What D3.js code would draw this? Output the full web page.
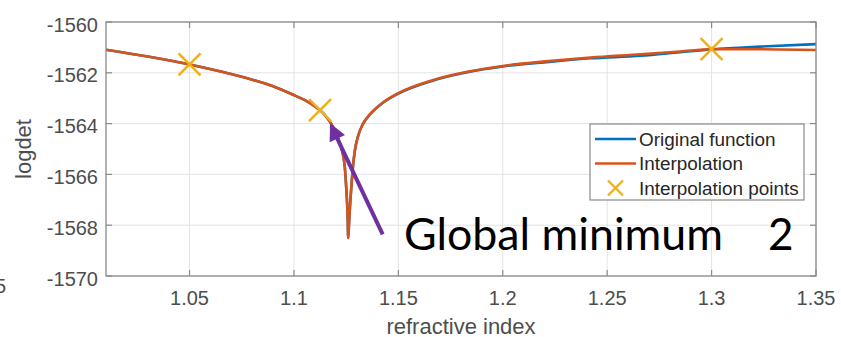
<!DOCTYPE html>
<html>
<head>
<meta charset="utf-8">
<script src="https://cdn.jsdelivr.net/npm/d3@7"></script>
<style>
  html, body { margin: 0; padding: 0; background: #fff; }
  svg { display: block; }
</style>
</head>
<body>
<svg id="chart" width="841" height="337"></svg>
<script>
// ---------- data ----------
const refractiveIndex = [1.010, 1.030, 1.050, 1.065, 1.080, 1.090, 1.100, 1.105, 1.110, 1.1125,
  1.115, 1.118, 1.121, 1.123, 1.1245, 1.1252, 1.1257, 1.1260,
  1.1264, 1.1268, 1.1274, 1.1282, 1.1292, 1.1305, 1.1330, 1.1364, 1.142,
  1.150, 1.166, 1.183, 1.200, 1.222, 1.242, 1.266, 1.285, 1.300, 1.323, 1.350];

const originalFunction = [-1561.09, -1561.36, -1561.67, -1561.95, -1562.27, -1562.53, -1562.88, -1563.07, -1563.32, -1563.47,
  -1563.68, -1564.03, -1564.55, -1565.05, -1565.85, -1566.75, -1567.60, -1568.50,
  -1567.90, -1567.30, -1566.60, -1565.75, -1565.05, -1564.55, -1564.02, -1563.64, -1563.22,
  -1562.82, -1562.32, -1561.98, -1561.75, -1561.57, -1561.43, -1561.33, -1561.19, -1561.08, -1560.97, -1560.87];

const interpolation = [-1561.09, -1561.36, -1561.67, -1561.95, -1562.27, -1562.53, -1562.88, -1563.07, -1563.32, -1563.47,
  -1563.68, -1564.03, -1564.55, -1565.05, -1565.85, -1566.75, -1567.60, -1568.50,
  -1567.90, -1567.30, -1566.60, -1565.75, -1565.05, -1564.55, -1564.02, -1563.64, -1563.21,
  -1562.80, -1562.30, -1561.96, -1561.73, -1561.54, -1561.40, -1561.27, -1561.16, -1561.07, -1561.07, -1561.10];

const pointsX = [1.05, 1.1125, 1.30];
const pointsY = [-1561.67, -1563.47, -1561.07];

const xTicks = [1.05, 1.1, 1.15, 1.2, 1.25, 1.3, 1.35];
const xTickLabels = ["1.05", "1.1", "1.15", "1.2", "1.25", "1.3", "1.35"];
const yTicks = [-1570, -1568, -1566, -1564, -1562, -1560];
const yTickLabels = ["-1570", "-1568", "-1566", "-1564", "-1562", "-1560"];

const legendLabels = ["Original function", "Interpolation", "Interpolation points"];
const xLabel = "refractive index";
const yLabel = "logdet";
const annotationText = "Global minimum";
const annotationNumber = "2";
// arrow annotation in data coordinates: [tail, tip]
const arrowX = [1.1425, 1.1173];
const arrowY = [-1568.36, -1563.99];

// ---------- layout ----------
const svg = d3.select("#chart");
const L = 106, R = 816, T = 22, B = 276;
const x = d3.scaleLinear().domain([1.01, 1.35]).range([L, R]);
const y = d3.scaleLinear().domain([-1570, -1560]).range([B, T]);

const blue = "#0072BD", orange = "#D95319", yellow = "#EDB120";
const tickColor = "#4d4d4d";
const axisColor = "#8a8a8a";
const fontTick = "Liberation Sans, Arial, Helvetica, sans-serif";

// grid
const grid = svg.append("g");
grid.selectAll("line.gx").data(xTicks).join("line")
  .attr("x1", d => x(d)).attr("x2", d => x(d)).attr("y1", T).attr("y2", B)
  .attr("stroke", "#e3e3e3").attr("stroke-width", 1);
grid.selectAll("line.gy").data(yTicks).join("line")
  .attr("x1", L).attr("x2", R).attr("y1", d => y(d)).attr("y2", d => y(d))
  .attr("stroke", "#e3e3e3").attr("stroke-width", 1);

// curves
const lineGen = d3.line().curve(d3.curveMonotoneX);
const origData = refractiveIndex.map((v, i) => [x(v), y(originalFunction[i])]);
const interpData = refractiveIndex.map((v, i) => [x(v), y(interpolation[i])]);

svg.append("clipPath").attr("id", "clip")
  .append("rect").attr("x", L).attr("y", T).attr("width", R - L).attr("height", B - T);

const plot = svg.append("g").attr("clip-path", "url(#clip)");
plot.append("path").attr("d", lineGen(origData))
  .attr("fill", "none").attr("stroke", blue).attr("stroke-width", 2.6);
plot.append("path").attr("d", lineGen(interpData))
  .attr("fill", "none").attr("stroke", orange).attr("stroke-width", 2.6);

// interpolation points (x markers)
function cross(g, cx, cy, s, w) {
  g.append("line").attr("x1", cx - s).attr("y1", cy - s).attr("x2", cx + s).attr("y2", cy + s)
    .attr("stroke", yellow).attr("stroke-width", w);
  g.append("line").attr("x1", cx - s).attr("y1", cy + s).attr("x2", cx + s).attr("y2", cy - s)
    .attr("stroke", yellow).attr("stroke-width", w);
}
const marks = svg.append("g");
pointsX.forEach((px, i) => cross(marks, x(px), y(pointsY[i]), 11, 2.6));

// axes box
svg.append("rect").attr("x", L).attr("y", T).attr("width", R - L).attr("height", B - T)
  .attr("fill", "none").attr("stroke", axisColor).attr("stroke-width", 1.3);

// ticks (inward on all sides)
const tl = 6;
const ticks = svg.append("g").attr("stroke", axisColor).attr("stroke-width", 1.2);
xTicks.forEach(t => {
  ticks.append("line").attr("x1", x(t)).attr("x2", x(t)).attr("y1", B).attr("y2", B - tl);
  ticks.append("line").attr("x1", x(t)).attr("x2", x(t)).attr("y1", T).attr("y2", T + tl);
});
yTicks.forEach(t => {
  ticks.append("line").attr("x1", L).attr("x2", L + tl).attr("y1", y(t)).attr("y2", y(t));
  ticks.append("line").attr("x1", R).attr("x2", R - tl).attr("y1", y(t)).attr("y2", y(t));
});

// tick labels
svg.append("g").selectAll("text").data(xTicks).join("text")
  .attr("x", d => x(d)).attr("y", 305)
  .attr("text-anchor", "middle")
  .attr("font-family", fontTick).attr("font-size", 20).attr("fill", tickColor)
  .text((d, i) => xTickLabels[i]);
svg.append("g").selectAll("text").data(yTicks).join("text")
  .attr("x", 98).attr("y", d => y(d) + 9.5)
  .attr("text-anchor", "end")
  .attr("font-family", fontTick).attr("font-size", 20).attr("fill", tickColor)
  .text((d, i) => yTickLabels[i]);

// stray label at far left (cropped in original)
svg.append("text").attr("x", 6).attr("y", 293).attr("text-anchor", "end")
  .attr("font-family", fontTick).attr("font-size", 20).attr("fill", tickColor).text("5");

// axis labels
svg.append("text").attr("x", (L + R) / 2).attr("y", 334).attr("text-anchor", "middle")
  .attr("font-family", fontTick).attr("font-size", 22).attr("fill", tickColor).text(xLabel);
svg.append("text").attr("transform", `translate(31,${(T + B) / 2}) rotate(-90)`)
  .attr("text-anchor", "middle")
  .attr("font-family", fontTick).attr("font-size", 22).attr("fill", tickColor).text(yLabel);

// legend
const lg = svg.append("g");
lg.append("rect").attr("x", 590).attr("y", 124).attr("width", 214).attr("height", 76)
  .attr("fill", "#fff").attr("stroke", axisColor).attr("stroke-width", 1.2);
const rows = [139, 163.5, 188];
lg.append("line").attr("x1", 595).attr("x2", 636).attr("y1", rows[0]).attr("y2", rows[0])
  .attr("stroke", blue).attr("stroke-width", 2.6);
lg.append("line").attr("x1", 595).attr("x2", 636).attr("y1", rows[1]).attr("y2", rows[1])
  .attr("stroke", orange).attr("stroke-width", 2.6);
cross(lg, 615.5, rows[2], 7.5, 2.4);
legendLabels.forEach((t, i) => {
  lg.append("text").attr("x", 639).attr("y", rows[i] + 6.5)
    .attr("font-family", fontTick).attr("font-size", 18.9).attr("fill", "#262626").text(t);
});

// annotation arrow
const ax0 = x(arrowX[0]), ay0 = y(arrowY[0]), ax1 = x(arrowX[1]), ay1 = y(arrowY[1]);
const ang = Math.atan2(ay1 - ay0, ax1 - ax0);
const hl = 17, hw = 8.5;
const bx = ax1 - hl * Math.cos(ang), by = ay1 - hl * Math.sin(ang);
svg.append("line").attr("x1", ax0).attr("y1", ay0).attr("x2", bx + 2 * Math.cos(ang)).attr("y2", by + 2 * Math.sin(ang))
  .attr("stroke", "#7030A0").attr("stroke-width", 4);
svg.append("path")
  .attr("d", `M${ax1},${ay1} L${bx - hw * Math.sin(ang)},${by + hw * Math.cos(ang)} L${bx + hw * Math.sin(ang)},${by - hw * Math.cos(ang)} Z`)
  .attr("fill", "#7030A0");

// annotation text
svg.append("text").attr("x", 404).attr("y", 250)
  .attr("font-family", "Lato, 'Open Sans', sans-serif").attr("font-size", 44).attr("fill", "#000")
  .attr("textLength", 319).attr("lengthAdjust", "spacingAndGlyphs")
  .text(annotationText);
svg.append("text").attr("x", 768).attr("y", 250)
  .attr("font-family", "Lato, 'Open Sans', sans-serif").attr("font-size", 44).attr("fill", "#000")
  .text(annotationNumber);
</script>
</body>
</html>
